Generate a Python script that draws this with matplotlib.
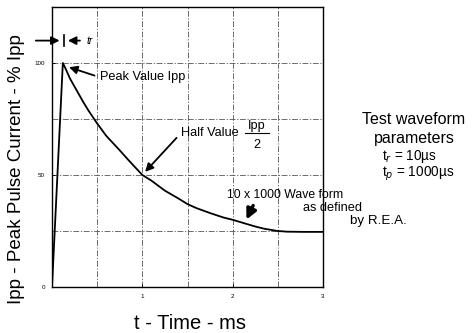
import matplotlib
matplotlib.use("Agg")
import matplotlib.pyplot as plt

# Data
time_ms = [0.0, 0.12, 0.15, 0.2, 0.27, 0.34, 0.4, 0.5, 0.6, 0.75, 0.85, 1.0, 1.1, 1.25,
           1.4, 1.5, 1.6, 1.75, 1.9, 2.0, 2.1, 2.25, 2.35, 2.5, 2.6, 2.8, 3.0]
current_pct = [0.0, 100.0, 97.5, 93.0, 88.0, 83.0, 79.0, 73.0, 67.5, 61.0, 56.5, 50.0, 47.5, 43.0,
               39.5, 37.0, 35.2, 33.0, 31.0, 30.0, 28.8, 27.0, 26.0, 25.0, 24.7, 24.6, 24.6]
x_ticks = [1, 2, 3]
x_tick_labels = ["1", "2", "3"]
y_ticks = [0, 50, 100]
y_tick_labels = ["0", "50", "100"]
x_grid = [0.5, 1.0, 1.5, 2.0, 2.5]
y_grid = [25, 50, 75, 100]

plt.rcParams['font.family'] = ['Liberation Sans', 'DejaVu Sans']

fig = plt.figure(figsize=(4.74, 3.33), dpi=100)
ax = fig.add_axes([52/474, 1-287/333, (323-52)/474, (287-7)/333])
ax.set_xlim(0, 3)
ax.set_ylim(0, 125)

gls = (0, (7, 2, 1.5, 2))
for g in x_grid:
    ax.axvline(g, color='#555555', lw=0.6, ls=gls, zorder=1)
for g in y_grid:
    ax.axhline(g, color='#555555', lw=0.6, ls=gls, zorder=1)

ax.plot(time_ms, current_pct, color='black', lw=1.3, zorder=3)

for s in ax.spines.values():
    s.set_linewidth(1.0)
ax.set_xticks(x_ticks)
ax.set_xticklabels(x_tick_labels, fontsize=4.5)
ax.set_yticks(y_ticks)
ax.set_yticklabels(y_tick_labels, fontsize=4.5)
ax.tick_params(direction='in', length=2, width=0.7, pad=5)

ax.set_xlabel("t - Time - ms", fontsize=14.5)
ax.xaxis.set_label_coords((190-52)/271, (287-314)/280)
ax.set_ylabel("Ipp - Peak Pulse Current - % Ipp", fontsize=13.5)
ax.yaxis.set_label_coords((25-52)/271, (287-169)/280)

# tr indicator
ax.annotate("", xy=(0.115, 110), xytext=(-0.21, 110), annotation_clip=False,
            arrowprops=dict(arrowstyle='-|>', color='black', lw=1.3, mutation_scale=12))
ax.annotate("", xy=(0.145, 110), xytext=(0.34, 110), annotation_clip=False,
            arrowprops=dict(arrowstyle='-|>', color='black', lw=1.3, mutation_scale=12))
ax.plot([0.13, 0.13], [107.5, 112.5], color='black', lw=1.2, clip_on=False)
ax.text(0.38, 110, "tr", fontsize=7.5, va='center', ha='left', style='italic')

# Peak value
ax.annotate("", xy=(0.16, 98.5), xytext=(0.50, 94.0),
            arrowprops=dict(arrowstyle='-|>', color='black', lw=1.3, mutation_scale=12))
ax.text(0.53, 93.8, "Peak Value Ipp", fontsize=9.2, va='center', ha='left')

# Half value
ax.annotate("", xy=(1.01, 50.5), xytext=(1.40, 67.5),
            arrowprops=dict(arrowstyle='-|>', color='black', lw=1.3, mutation_scale=12))
ax.text(1.43, 68.7, "Half Value", fontsize=9.2, va='center', ha='left')
ax.text(2.27, 71.8, "Ipp", fontsize=9.2, va='center', ha='center')
ax.plot([2.14, 2.40], [68.6, 68.6], color='black', lw=0.8)
ax.text(2.27, 63.3, "2", fontsize=9.2, va='center', ha='center')

# Wave form note
ax.annotate("", xy=(2.14, 29.0), xytext=(2.24, 37.5),
            arrowprops=dict(arrowstyle='-|>', color='black', lw=2.4, mutation_scale=15))
ax.text(1.94, 41.0, "10 x 1000 Wave form", fontsize=8.8, va='center', ha='left')
ax.text(2.78, 35.3, "as defined", fontsize=9.2, va='center', ha='left', clip_on=False)
ax.text(3.30, 29.5, "by R.E.A.", fontsize=9.6, va='center', ha='left', clip_on=False)

# Right side text
fig.text(414/474, 1-120/333, "Test waveform", fontsize=11.5, ha='center', va='center')
fig.text(414/474, 1-138/333, "parameters", fontsize=11.5, ha='center', va='center')
fig.text(382/474, 1-157/333, "t$_r$ = 10µs", fontsize=9.8, ha='left', va='center')
fig.text(382/474, 1-174/333, "t$_p$ = 1000µs", fontsize=9.8, ha='left', va='center')

fig.savefig("out.png", dpi=100)
